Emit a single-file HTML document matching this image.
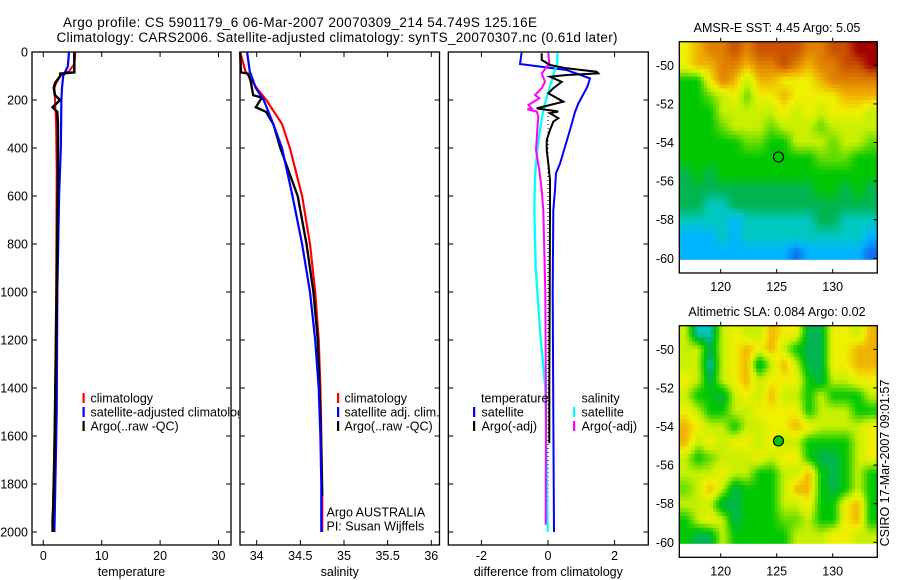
<!DOCTYPE html>
<html><head><meta charset="utf-8"><style>
html,body{margin:0;padding:0;background:#fff;}
svg{display:block;font-family:"Liberation Sans",sans-serif;}
text{fill:#000;}
</style></head><body>
<svg id="fig" width="900" height="580" viewBox="0 0 900 580" xmlns="http://www.w3.org/2000/svg">
<defs><clipPath id="clip1"><rect x="0" y="0" width="239" height="580"/></clipPath></defs>
<text x="300" y="27" font-size="13.5" text-anchor="middle" textLength="474">Argo profile: CS 5901179_6 06-Mar-2007 20070309_214 54.749S 125.16E</text>
<text x="337" y="42" font-size="13.5" text-anchor="middle" textLength="561">Climatology: CARS2006. Satellite-adjusted climatology: synTS_20070307.nc (0.61d later)</text>
<text x="777" y="32" font-size="12.5" text-anchor="middle">AMSR-E SST: 4.45 Argo: 5.05</text>
<text x="777" y="316" font-size="12.5" text-anchor="middle">Altimetric SLA: 0.084 Argo: 0.02</text>
<text transform="translate(889,463) rotate(-90)" font-size="12.5" text-anchor="middle">CSIRO 17-Mar-2007 09:01:57</text>
<g id="layer"></g>
</svg>
<script>
// ---- temperature panel data ----
const tClimDepth=[0,50,80,100,130,150,200,300,500,1000,1500,2000];
const tClimVal=[5.5,5.3,4.4,2.9,2.2,1.9,2.0,2.2,2.3,2.2,2.0,1.55];
const tSatDepth=[0,60,100,150,200,400,600,1000,1500,2000];
const tSatVal=[4.4,4.2,3.4,3.2,3.1,3.0,2.7,2.4,2.3,1.9];
const tArgoDepth=[0,85,90,100,130,150,180,200,230,250,300,500,1000,1500,1700,1900,1950,2000];
const tArgoVal=[5.3,5.3,2.9,2.9,2.0,1.8,2.0,2.9,1.6,2.4,2.5,2.5,2.3,2.0,1.9,1.7,1.6,1.6];
// ---- salinity panel data ----
const sClimDepth=[0,80,150,200,300,400,600,800,1000,1200,1400,1600,1800,2000];
const sClimVal=[33.81,33.87,34.0,34.11,34.29,34.38,34.52,34.61,34.67,34.71,34.73,34.74,34.75,34.75];
const sSatDepth=[0,80,150,200,300,400,600,800,1000,1200,1400,1600,1800,2000];
const sSatVal=[33.89,33.92,33.99,34.08,34.19,34.29,34.41,34.52,34.61,34.67,34.71,34.73,34.74,34.74];
const sArgoDepth=[0,85,90,120,180,190,230,250,270,300,400,600,800,1000,1200,1500,1850];
const sArgoVal=[33.81,33.82,33.9,33.93,33.96,34.06,33.99,34.11,34.14,34.19,34.27,34.47,34.57,34.65,34.70,34.73,34.75];
// ---- difference panel data ----
const dTSatDepth=[0,50,75,110,145,215,250,325,395,465,505,575,660,1000,1500,2000];
const dTSatVal=[-0.79,-0.84,0.56,1.26,1.18,0.91,0.81,0.66,0.51,0.36,0.24,0.21,0.16,0.14,0.16,0.18];
const dTArgoDepth=[5,33,54,68,82,89,96,103,124,151,172,207,221,235,248,255,276,290,325,367,408,464,533,658,1000,1400,1630];
const dTArgoVal=[-0.19,-0.19,0.06,0.56,1.46,1.51,0.56,0.06,0.41,0.16,0.01,0.46,0.06,-0.34,0.31,0.06,0.31,0.16,0.06,-0.04,-0.04,0.01,0.06,0.06,0.05,0.04,0.04];
const dSSatDepth=[5,47,96,144,214,255,325,408,519,658,900,1160,1400,2000];
const dSSatVal=[0.28,0.28,0.16,0.06,-0.09,-0.16,-0.24,-0.32,-0.39,-0.41,-0.37,-0.24,-0.08,-0.01];
const dSArgoDepth=[5,47,89,124,151,179,193,221,235,239,248,269,325,408,492,575,658,1000,1500,1970];
const dSArgoVal=[0.01,0.04,-0.19,-0.09,-0.19,-0.39,-0.26,-0.59,-0.49,-0.62,-0.34,-0.29,-0.32,-0.36,-0.26,-0.19,-0.14,-0.08,-0.06,-0.07];
// ---- tick labels ----
const depthTicks=[0,200,400,600,800,1000,1200,1400,1600,1800,2000];
const tempTicks=[0,10,20,30];
const salTicks=[34,34.5,35,35.5,36];
const salTickLabels=["34","34.5","35","35.5","36"];
const diffTicks=[-2,0,2];
const lonTicks=[120,125,130];
const latTicks=[-50,-52,-54,-56,-58,-60];
// ---- map grids (colour index per cell, rows top->bottom) ----
const sstGrid=["7899a9aaaa99aabb","78899899a9899aab","4479868877789999","4456757787777888","4446666676767776","4445666566656666","4444455446665665","4444444444455544","3434444444444444","3333333333344343","3322333333333333","2222122222233222","1112122222222221","1111111110111110"];
const slaGrid=["6226766877337768","6636787864337788","6626783686337788","7636786777436677","6443676866464446","7644667777466644","8766466778766667","8676776766444467","6456667677433467","6667664466843464","5686344468843464","6663344466744784","4676344455644784","4336444446667766"];
const palette=[[16,112,240],[0,180,255],[0,200,192],[0,180,80],[0,200,0],[100,220,0],[200,240,0],[240,240,0],[240,180,0],[224,128,0],[200,80,0],[160,0,0]];
const argoLon=125.16, argoLat=-54.749;

const NS="http://www.w3.org/2000/svg";
const layer=document.getElementById('layer');
function mk(tag,attrs,parent){const e=document.createElementNS(NS,tag);for(const k in attrs)e.setAttribute(k,attrs[k]);(parent||layer).appendChild(e);return e;}
const yD=d=>52+d*0.24;
const PY0=52,PY1=545;
const xT=v=>43.3+v*5.84;
const xS=v=>256.7+(v-34)*87.3;
const xDf=v=>548+v*33.3;
function line(depths,vals,xf,color,w,name){
  const pts=depths.map((d,i)=>xf(vals[i]).toFixed(1)+','+yD(d).toFixed(1)).join(' ');
  const p=mk('polyline',{points:pts,fill:'none',stroke:color,'stroke-width':w,'stroke-linejoin':'miter'});
  
  
  return p;
}
function panel(x0,x1,xf,ticks,labels,xlabel,name,showY){
  const g=mk('g',{});
  
  
  mk('rect',{x:x0,y:PY0,width:x1-x0,height:PY1-PY0,fill:'none',stroke:'#000','stroke-width':1.3},g);
  ticks.forEach((t,i)=>{const x=xf(t);
    mk('line',{x1:x,x2:x,y1:PY1,y2:PY1-5,stroke:'#000'},g);
    mk('line',{x1:x,x2:x,y1:PY0,y2:PY0+5,stroke:'#000'},g);
    const tx=mk('text',{x:x,y:560,'font-size':12.5,'text-anchor':'middle'},g);tx.textContent=labels[i];
    
    
  });
  depthTicks.forEach(d=>{const y=yD(d);
    mk('line',{x1:x0,x2:x0+5,y1:y,y2:y,stroke:'#000'},g);
    mk('line',{x1:x1,x2:x1-5,y1:y,y2:y,stroke:'#000'},g);
    if(showY){const tx=mk('text',{x:28,y:y+4.5,'font-size':12.5,'text-anchor':'end'},g);tx.textContent=d;
      
      }
  });
  const at=mk('text',{x:(x0+x1)/2,y:576,'font-size':12.5,'text-anchor':'middle'},g);at.textContent=xlabel;
  
  
}
panel(32,231,xT,tempTicks,tempTicks.map(String),'temperature','temperature-panel',true);
panel(240,439.5,xS,salTicks,salTickLabels,'salinity','salinity-panel',false);
panel(448.3,648.3,xDf,diffTicks,diffTicks.map(String),'difference from climatology','difference-panel',false);

line(tClimDepth,tClimVal,xT,'#ff0000',2,'temp-climatology-line');
line(tSatDepth,tSatVal,xT,'#0000ff',2.2,'temp-satellite-line');
line(tArgoDepth,tArgoVal,xT,'#000000',2.5,'temp-argo-line');
line(sClimDepth,sClimVal,xS,'#ff0000',2.2,'sal-climatology-line');
line(sArgoDepth,sArgoVal,xS,'#000000',2.3,'sal-argo-line');
line(sSatDepth,sSatVal,xS,'#0000ff',2.2,'sal-satellite-line');
const zl=mk('line',{x1:xDf(0),x2:xDf(0),y1:yD(250),y2:yD(2000),stroke:'#000','stroke-width':1,'stroke-dasharray':'1,3'});


line(dTSatDepth,dTSatVal,xDf,'#0000ff',2,'diff-temp-satellite-line');
line(dSSatDepth,dSSatVal,xDf,'#00ffff',2.3,'diff-sal-satellite-line');
line(dSArgoDepth,dSArgoVal,xDf,'#ff00ff',2,'diff-sal-argo-line');
line(dTArgoDepth,dTArgoVal,xDf,'#000000',2,'diff-temp-argo-line');

function legendEntry(mx,tx,y,color,label,clip){
  const g=mk('g',clip?{'clip-path':'url(#clip1)'}:{});
  
  
  if(color)mk('rect',{x:mx-1,y:y-5,width:2.2,height:10,fill:color},g);
  const t=mk('text',{x:tx,y:y+4.5,'font-size':12.5},g);t.textContent=label;
}
legendEntry(83.5,90.5,398,'#ff0000','climatology');
legendEntry(83.5,90.5,412,'#0000ff','satellite-adjusted climatology',true);
legendEntry(83.5,90.5,426,'#000000','Argo(..raw -QC)');
legendEntry(338,344.5,398,'#ff0000','climatology');
legendEntry(338,344.5,412,'#0000ff','satellite adj. clim.');
legendEntry(338,344.5,426,'#000000','Argo(..raw -QC)');
legendEntry(0,326.5,512,null,'Argo AUSTRALIA');
legendEntry(0,326.5,526,null,'PI: Susan Wijffels');
legendEntry(0,481,398,null,'temperature');
legendEntry(474,481.5,412,'#0000ff','satellite');
legendEntry(474,481.5,426,'#000000','Argo(-adj)');
legendEntry(0,581.5,398,null,'salinity');
legendEntry(574,581.5,412,'#00ffff','satellite');
legendEntry(574,581.5,426,'#ff00ff','Argo(-adj)');

// maps
const MX0=679.3,MX1=877.3;
const xLon=l=>720.7+(l-120)*11.2;
function colorAt(v){
  v=Math.max(0,Math.min(palette.length-1,v));
  const i=Math.min(palette.length-2,Math.floor(v)),f=v-i;
  const a=palette[i],b=palette[i+1];
  return 'rgb('+a.map((c,k)=>Math.round(c+(b[k]-c)*f)).join(',')+')';
}
function map(grid,boxTop,boxBot,imgBot,lat50,name,fillCircle){
  const yLat=l=>lat50+(-50-l)*19.3;
  const g=mk('g',{});
  
  
  const rows=grid.length,cols=grid[0].length;
  const vals=grid.map(r=>r.split('').map(ch=>parseInt(ch,12)));
  const S=4;
  const NC=cols*S,NR=rows*S;
  const cw=(876.5-MX0)/NC,ch=(imgBot-boxTop)/NR;
  const get=(r,c)=>vals[Math.max(0,Math.min(rows-1,r))][Math.max(0,Math.min(cols-1,c))];
  for(let r=0;r<NR;r++){for(let c=0;c<NC;c++){
    const fr=(r+0.5)/S-0.5, fc=(c+0.5)/S-0.5;
    const r0=Math.floor(fr),c0=Math.floor(fc),dr=fr-r0,dc=fc-c0;
    const v=get(r0,c0)*(1-dr)*(1-dc)+get(r0,c0+1)*(1-dr)*dc+get(r0+1,c0)*dr*(1-dc)+get(r0+1,c0+1)*dr*dc;
    const cell=mk('rect',{x:(MX0+c*cw).toFixed(2),y:(boxTop+r*ch).toFixed(2),width:(cw+0.5).toFixed(2),height:(ch+0.5).toFixed(2),fill:colorAt(v)},g);
    
    
  }}
  mk('rect',{x:MX0,y:boxTop,width:MX1-MX0,height:boxBot-boxTop,fill:'none',stroke:'#000','stroke-width':1.3},g);
  lonTicks.forEach(l=>{const x=xLon(l);
    mk('line',{x1:x,x2:x,y1:boxBot,y2:boxBot-4,stroke:'#000'},g);
    mk('line',{x1:x,x2:x,y1:boxTop,y2:boxTop-4,stroke:'#000'},g);
    const t=mk('text',{x:x,y:boxBot+18,'font-size':12.5,'text-anchor':'middle'},g);t.textContent=l;
    
    
  });
  latTicks.forEach(l=>{const y=yLat(l);
    mk('line',{x1:MX1,x2:MX1-4,y1:y,y2:y,stroke:'#000'},g);
    const t=mk('text',{x:674,y:y+4.5,'font-size':12.5,'text-anchor':'end'},g);t.textContent=l;
    
    
  });
  const c=mk('circle',{cx:xLon(argoLon),cy:yLat(argoLat),r:5,fill:fillCircle?'#00c800':'none',stroke:'#000','stroke-width':1.2},g);
  
  
}
map(sstGrid,41.7,273,259.3,65.3,'sst-map',false);
map(slaGrid,325.7,557.3,543.3,349.3,'sla-map',true);
</script>
</body></html>
